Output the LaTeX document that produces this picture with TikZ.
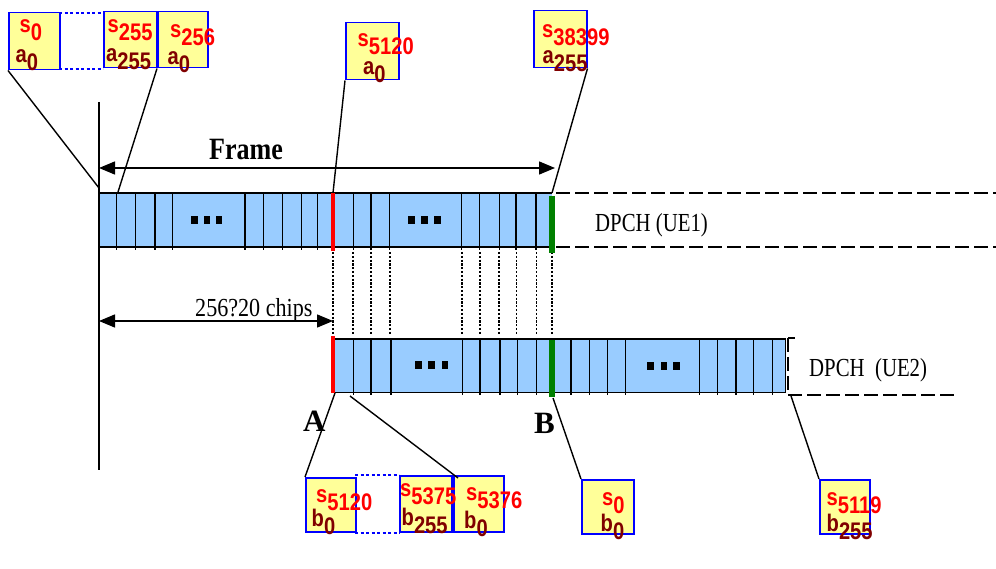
\documentclass[tikz,border=0pt]{standalone}
\usepackage{fontspec}
\usepackage{graphicx}
\setmainfont{Liberation Serif}
\setsansfont{Liberation Sans}
\usetikzlibrary{arrows.meta}
\definecolor{barblue}{HTML}{99CCFF}
\definecolor{boxyellow}{HTML}{FFFF99}
\definecolor{dred}{HTML}{800000}
\definecolor{dgreen}{HTML}{008000}
\definecolor{bblue}{HTML}{0000FF}
\newcommand\slab[2]{\scalebox{0.84}[1]{#1\raisebox{-8pt}{#2}}}
\begin{document}
\begin{tikzpicture}[x=1pt,y=-1pt,
  barline/.style={line width=1.3pt},
  divider/.style={line width=1.3pt},
  vdots/.style={line width=1.8pt,dash pattern=on 2.2pt off 1.6pt},
  dashline/.style={line width=2.6pt,dash pattern=on 14pt off 5pt},
  ybox/.style={draw=bblue,fill=boxyellow,line width=1.5pt,inner sep=0pt,anchor=north west},
  bdots/.style={draw=bblue,line width=1.6pt,dash pattern=on 3pt off 2.5pt},
  conn/.style={line width=1.4pt},
  stxt/.style={inner sep=0pt,anchor=base west,text=red,font=\fontsize{24}{24}\selectfont\sffamily\bfseries},
  atxt/.style={inner sep=0pt,anchor=base west,text=dred,font=\fontsize{24}{24}\selectfont\sffamily\bfseries},
  serif/.style={inner sep=0pt,anchor=base west,font=\fontsize{26}{26}\selectfont},
  bigarrow/.style={line width=1.5pt,{Triangle[length=16pt,width=13pt]}-{Triangle[length=16pt,width=13pt]}},
  sq/.style={fill=black}
]
\useasboundingbox (0,0) rectangle (996,569);

% ---------- top bar ----------
\fill[barblue] (99,193) rectangle (552,247);
\draw[barline] (99,193) -- (552,193) (99,247) -- (552,247);
\foreach \x in {116.7,135.7,155,172.7,245,263.3,282.3,301.3,317.7,353.3,371,389.3,461.7,479.3,499.3,516,536}
  \draw[divider] (\x,193) -- (\x,250);
\foreach \x in {191,203.5,215.5} \fill[sq] (\x,216) rectangle ++(6.5,8.3);
\foreach \x in {408,421,434} \fill[sq] (\x,216) rectangle ++(6.5,8.3);

% ---------- bottom bar ----------
\fill[barblue] (333,339) rectangle (785.7,392.3);
\draw[barline] (333,339) -- (785.7,339) -- (785.7,392.3) -- (333,392.3);
\foreach \x in {353.3,371,391,462.7,480,500,517.7,536.7,571,589.3,607.3,625.7,699.3,717.3,736,753.7,772.3}
  \draw[divider] (\x,339) -- (\x,395);
\foreach \x in {415,428.3,441.5} \fill[sq] (\x,360.5) rectangle ++(6.5,8.3);
\foreach \x in {647.3,660.5,673.3} \fill[sq] (\x,362) rectangle ++(6.5,8.3);

% ---------- dotted alignment lines ----------
\foreach \x in {333,353.3,371,390,462,480,499,516.5,536.5,552}
  \draw[vdots] (\x,252) -- (\x,335);

% ---------- red / green markers ----------
\draw[red,line width=4.6pt] (333,193) -- (333,251);
\draw[red,line width=4.6pt] (333,336) -- (333,393);
\draw[dgreen,line width=6pt] (552,196) -- (552,253);
\draw[dgreen,line width=6pt] (552,340) -- (552,397);

% ---------- dashed continuations ----------
\draw[dashline] (556,193) -- (996,193);
\draw[dashline] (556,247) -- (996,247);
\draw[line width=2.6pt] (788,338) -- (795,338);
\draw[dashline] (788,338) -- (788,395) -- (958,395);

% ---------- left vertical line and arrows ----------
\draw[line width=1.5pt] (99,102) -- (99,470);
\coordinate (fl) at (99,168);
\coordinate (fr) at (555,168);
\draw[bigarrow] (fl) -- (fr);
\coordinate (cl) at (99,321);
\coordinate (cr) at (333,321);
\draw[bigarrow] (cl) -- (cr);

% ---------- texts ----------
\node[serif,font=\fontsize{31}{31}\selectfont\bfseries] (frame) at (209,159.3) {\scalebox{0.84}[1]{Frame}};
\node[serif] (chips) at (195,316.7) {\scalebox{0.85}[1]{256?20 chips}};
\node[serif] (ue1) at (595,231.7) {\scalebox{0.8}[1]{DPCH (UE1)}};
\node[serif] (ue2) at (809,376) {\scalebox{0.8}[1]{DPCH\ \ (UE2)}};
\node[serif,font=\fontsize{31}{31}\selectfont\bfseries] (A) at (303,431) {A};
\node[serif,font=\fontsize{31}{31}\selectfont\bfseries] (B) at (534,433) {B};

% ---------- boxes (top) ----------
\draw[bdots] (59,13) -- (103,13) (59,69) -- (103,69);
\node[ybox,minimum width=51pt,minimum height=57pt] (b1) at (8,12) {};
\node[ybox,minimum width=53pt,minimum height=56pt] (b2) at (103,11) {};
\node[ybox,minimum width=50pt,minimum height=56pt] (b3) at (157,11) {};
\node[ybox,minimum width=53pt,minimum height=57pt] (b4) at (345,22) {};
\node[ybox,minimum width=53pt,minimum height=57pt] (b5) at (533,10) {};

\node[stxt] (b1s) at (19.5,33) {\slab{s}{0}};
\node[atxt] (b1a) at (15.5,63) {\slab{a}{0}};
\node[stxt] (b2s) at (107.5,32.3) {\slab{s}{255}};
\node[atxt] (b2a) at (106,61.7) {\slab{a}{255}};
\node[stxt] (b3s) at (170,38) {\slab{s}{256}};
\node[atxt] (b3a) at (167.5,65) {\slab{a}{0}};
\node[stxt] (b4s) at (357.5,46.7) {\slab{s}{5120}};
\node[atxt] (b4a) at (363,75) {\slab{a}{0}};
\node[stxt] (b5s) at (542,37.7) {\slab{s}{38399}};
\node[atxt] (b5a) at (542.5,63.3) {\slab{a}{255}};

% ---------- boxes (bottom) ----------
\draw[bdots] (355,475) -- (399,475) (355,533) -- (400,533);
\node[ybox,minimum width=50pt,minimum height=54pt] (b6) at (305,477) {};
\node[ybox,minimum width=52pt,minimum height=56pt] (b7) at (399,475) {};
\node[ybox,minimum width=50pt,minimum height=56pt] (b8) at (453,475) {};
\node[ybox,minimum width=52pt,minimum height=54pt] (b9) at (581,479) {};
\node[ybox,minimum width=50pt,minimum height=54pt] (b10) at (819,479) {};

\node[stxt] (b6s) at (316,502.7) {\slab{s}{5120}};
\node[atxt] (b6b) at (311.5,526.7) {\slab{b}{0}};
\node[stxt] (b7s) at (400,496.7) {\slab{s}{5375}};
\node[atxt] (b7b) at (401.5,525) {\slab{b}{255}};
\node[stxt] (b8s) at (466,500) {\slab{s}{5376}};
\node[atxt] (b8b) at (464,528.3) {\slab{b}{0}};
\node[stxt] (b9s) at (602,505) {\slab{s}{0}};
\node[atxt] (b9b) at (600.5,531.7) {\slab{b}{0}};
\node[stxt] (b10s) at (826.5,505) {\slab{s}{5119}};
\node[atxt] (b10b) at (826.5,531.7) {\slab{b}{255}};

% ---------- connectors ----------
\coordinate (p1) at (99,188);
\coordinate (p2) at (118,192);
\coordinate (p3) at (333,193);
\coordinate (p4) at (552,193);
\coordinate (q1) at (335,393);
\coordinate (q2) at (350,396);
\coordinate (q3) at (553,398);
\coordinate (q4) at (791,396);
\draw[conn] (b1.south west) -- (p1);
\draw[conn] (b3.south west) -- (p2);
\draw[conn] (b4.south west) -- (p3);
\draw[conn] (b5.south east) -- (p4);
\draw[conn] (q1) -- (b6.north west);
\draw[conn] (q2) -- ([xshift=5pt,yshift=-3pt]b8.north west);
\draw[conn] (q3) -- (b9.north west);
\draw[conn] (q4) -- (b10.north west);
\end{tikzpicture}
\end{document}
